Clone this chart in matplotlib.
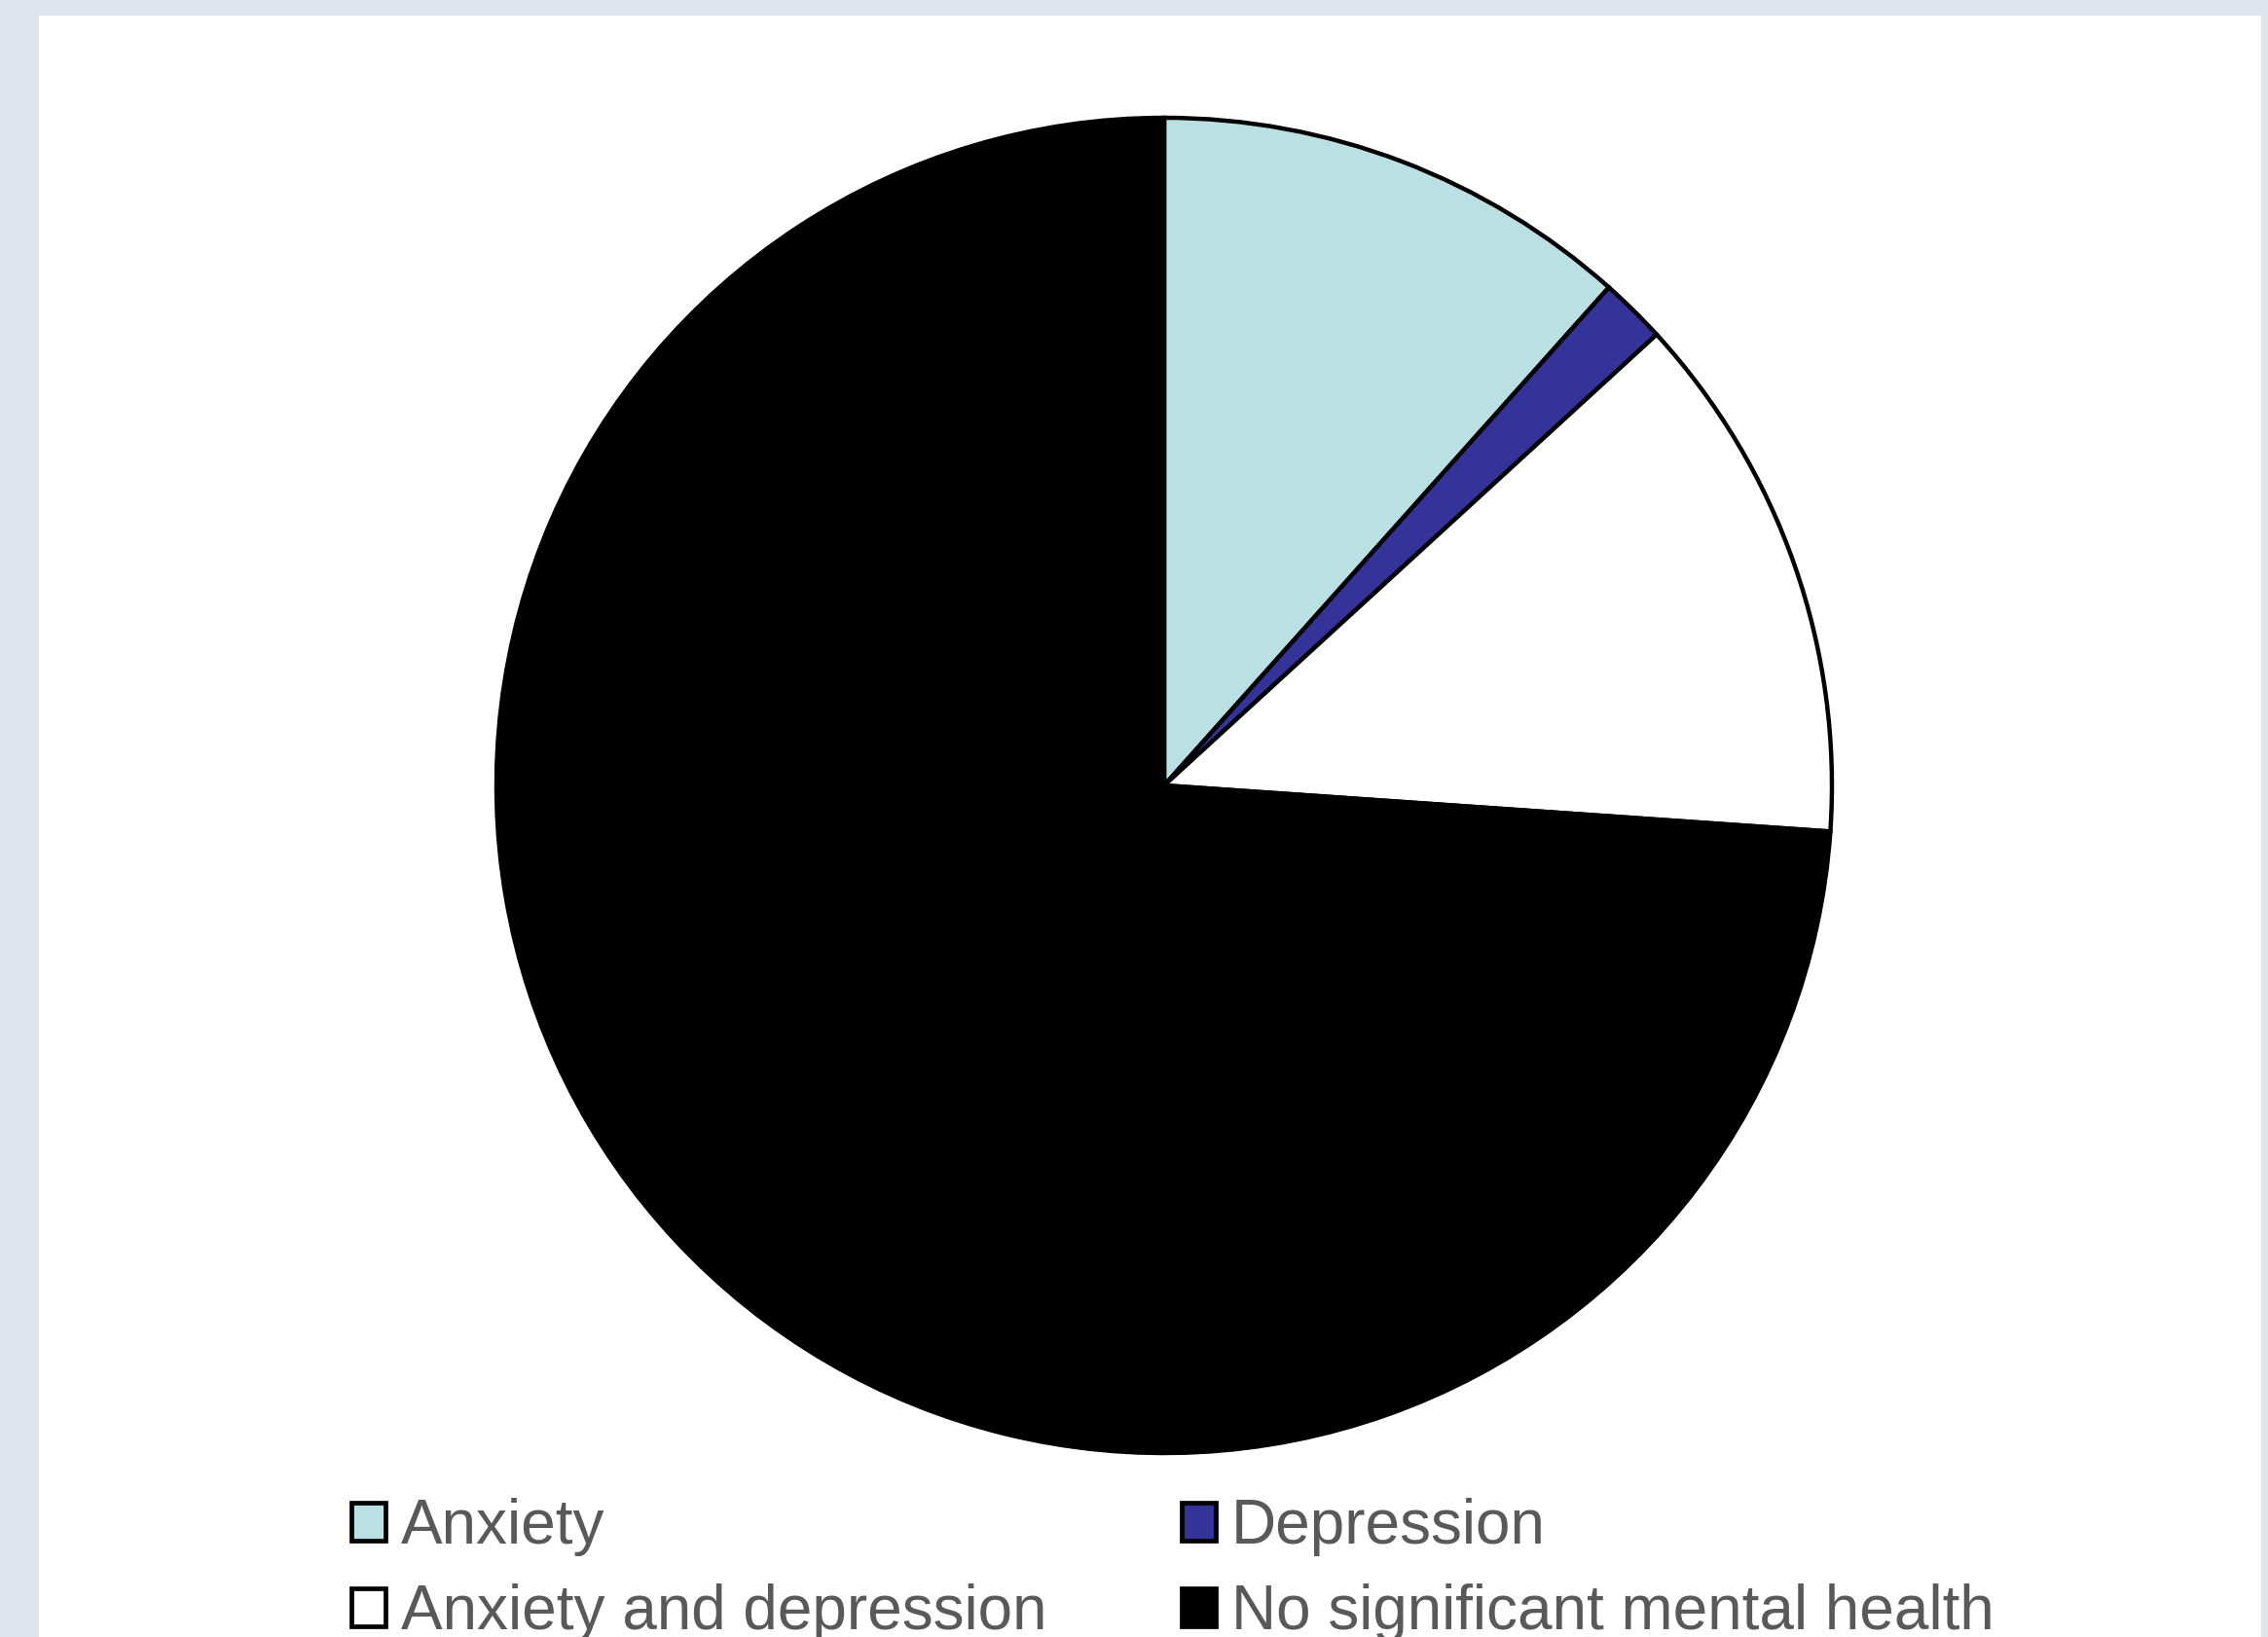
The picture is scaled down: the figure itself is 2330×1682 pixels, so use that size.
import matplotlib.pyplot as plt
from matplotlib.patches import Rectangle

# shares (percent), clockwise from 12 o'clock
labels = ["Anxiety", "Depression", "Anxiety and depression",
          "No significant mental health"]
shares = [11.6, 1.6, 12.9, 73.9]
colors = ["#bae0e3", "#333399", "#ffffff", "#000000"]

W, H = 2330, 1682
fig = plt.figure(figsize=(W / 100, H / 100), dpi=100, facecolor="#dfe3ec")

# white chart area inside the grey frame
fig.patches.append(Rectangle((40 / W, 0), (2323 - 40) / W, (H - 16) / H,
                             transform=fig.transFigure, facecolor="white",
                             edgecolor="none", zorder=-5))

# pie: centre (1196, 807) px, radius 686 px
cx, cy, r = 1196, 807, 686
ax = fig.add_axes([(cx - r) / W, (H - cy - r) / H, 2 * r / W, 2 * r / H])
ax.set_zorder(2)
wedges, _ = ax.pie(shares, colors=colors, startangle=90, counterclock=False,
                   wedgeprops=dict(edgecolor="black", linewidth=3.2,
                                   clip_on=False))
ax.set_xlim(-1, 1)
ax.set_ylim(-1, 1)
ax.set_aspect("equal")
ax.axis("off")

# legend, 2 columns, filled row by row
order = [0, 2, 1, 3]
leg = fig.legend([wedges[i] for i in order], [labels[i] for i in order],
                 loc="upper left", bbox_to_anchor=(361 / W, 0.085),
                 ncol=2, frameon=False, borderpad=0, borderaxespad=0,
                 prop=dict(family="Liberation Sans", size=46),
                 handlelength=0.55, handleheight=0.55, handletextpad=0.25,
                 columnspacing=2.16, labelspacing=0.44)
leg.set_zorder(3)
for t in leg.get_texts():
    t.set_color("#595959")
for h in leg.legend_handles:
    h.set_linewidth(3.4)

fig.savefig("out.png", dpi=100, facecolor=fig.get_facecolor())
